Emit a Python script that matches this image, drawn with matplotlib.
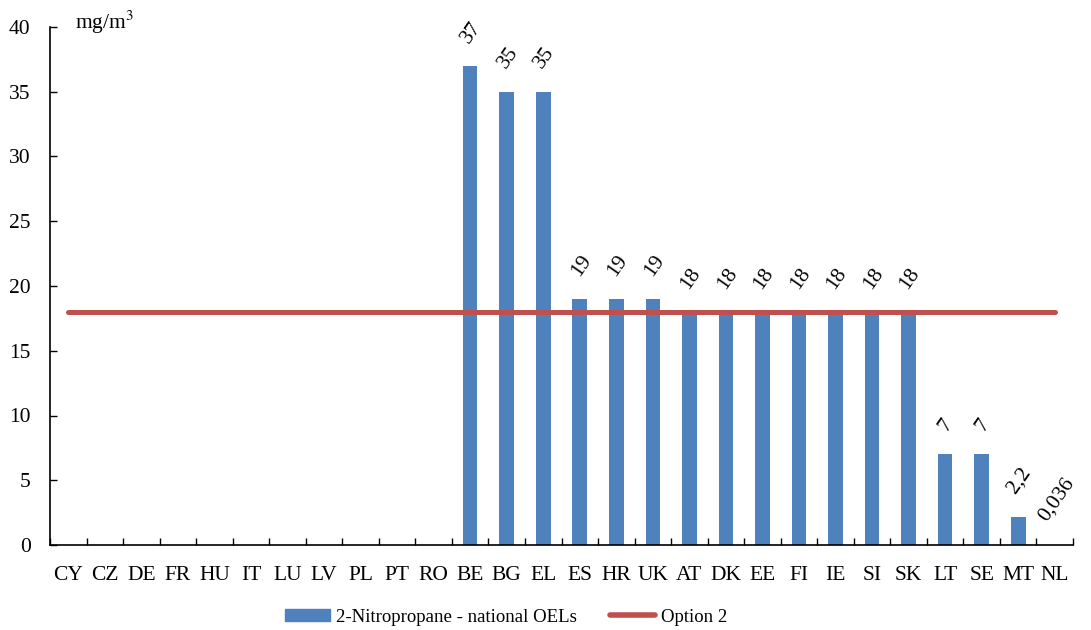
import matplotlib.pyplot as plt
import numpy as np
from matplotlib.lines import Line2D
from matplotlib.patches import Patch

COUNTRIES = ["CY", "CZ", "DE", "FR", "HU", "IT", "LU", "LV", "PL", "PT", "RO",
             "BE", "BG", "EL", "ES", "HR", "UK", "AT", "DK", "EE", "FI", "IE",
             "SI", "SK", "LT", "SE", "MT", "NL"]
OEL_VALUES = [None] * 11 + [37, 35, 35, 19, 19, 19, 18, 18, 18, 18, 18,
                            18, 18, 7, 7, 2.2, 0.036]
OPTION_2 = 18

BLUE = "#4F81BD"
RED = "#C0504D"

plt.rcParams["font.family"] = ["Liberation Serif", "DejaVu Serif"]
plt.rcParams["mathtext.fontset"] = "stix"


def fmt(v):
    s = f"{v:g}"
    return s.replace(".", ",")


def main():
    fig = plt.figure(figsize=(10.91, 6.30), dpi=100)
    ax = fig.add_axes([50 / 1091, 85 / 630, 1023 / 1091, 518 / 630])

    x = np.arange(len(COUNTRIES))
    heights = [v if v is not None else 0 for v in OEL_VALUES]
    ax.bar(x, heights, width=0.4, color=BLUE, zorder=2)

    # data labels only where a national OEL exists
    for xi, v in zip(x, OEL_VALUES):
        if v is None:
            continue
        ax.annotate(fmt(v), (xi, v), xytext=(1, 14), textcoords="offset points",
                    ha="center", va="bottom", rotation=55, fontsize=15.5)

    ax.plot([x[0], x[-1]], [OPTION_2, OPTION_2], color=RED, lw=3.6,
            solid_capstyle="round", zorder=3)

    ax.set_xlim(-0.5, len(COUNTRIES) - 0.5)
    ax.set_ylim(0, 40)
    ax.set_yticks(range(0, 41, 5))
    ax.set_xticks(x)
    ax.set_xticklabels(COUNTRIES)
    ax.set_xticks(np.arange(-0.5, len(COUNTRIES)), minor=True)
    ax.tick_params(axis="x", which="major", length=0, pad=15, labelsize=15.5)
    ax.tick_params(axis="x", which="minor", direction="in", length=5, width=1)
    ax.tick_params(axis="y", direction="in", length=5, width=1, pad=14,
                   labelsize=15.5)

    for side in ["top", "right"]:
        ax.spines[side].set_visible(False)
    for side in ["left", "bottom"]:
        ax.spines[side].set_linewidth(1.2)

    fig.text(75 / 1091, 1 - 22 / 630, "mg/m$^3$", fontsize=15.5,
             va="center", ha="left")

    handles = [Patch(color=BLUE), Line2D([0], [0], color=RED, lw=4,
                                         solid_capstyle="round")]
    fig.legend(handles, ["2-Nitropropane - national OELs", "Option 2"],
               loc="center", bbox_to_anchor=(0.464, 1 - 617 / 630), ncol=2,
               frameon=False, fontsize=13.5, handlelength=2.4,
               handleheight=0.6, columnspacing=1.8, handletextpad=0.3)

    fig.savefig("out.png", dpi=100)
    plt.close(fig)


if __name__ == "__main__":
    main()
